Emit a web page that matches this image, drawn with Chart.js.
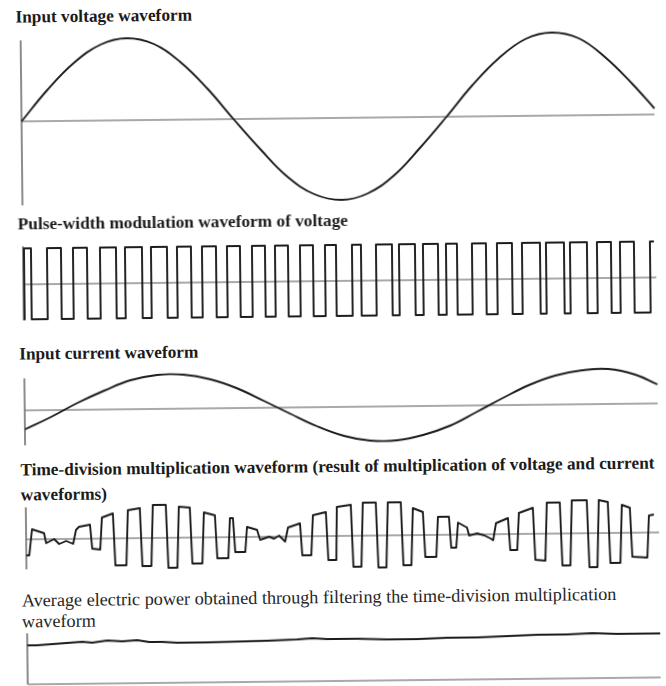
<!DOCTYPE html>
<html>
<head>
<meta charset="utf-8">
<script src="https://cdn.jsdelivr.net/npm/chart.js@4.4.1/dist/chart.umd.min.js"></script>
<style>
  html, body { margin: 0; padding: 0; background: #fff; overflow: hidden; }
  #sheet {
    position: relative; width: 666px; height: 686px;
    transform: rotate(-0.63deg); transform-origin: 333px 343px;
  }
  .title {
    position: absolute; left: 19px; white-space: nowrap; color: #1b1b1b;
    font-family: "Liberation Serif", "DejaVu Serif", serif; font-size: 17.3px;
    font-weight: bold; line-height: 20px;
  }
  .title.light { font-weight: normal; font-size: 18.2px; line-height: 21px; color: #262626; }
  canvas { position: absolute; left: 0; }
</style>
</head>
<body>
<div id="sheet">
  <div class="title" style="top:4px">Input voltage waveform</div>
  <canvas id="voltage" width="666" height="190" style="top:23px"></canvas>

  <div class="title" style="top:211px">Pulse-width modulation waveform of voltage</div>
  <canvas id="pwm" width="666" height="90" style="top:236px"></canvas>

  <div class="title" style="top:341px">Input current waveform</div>
  <canvas id="current" width="666" height="90" style="top:362px"></canvas>

  <div class="title" style="top:454px;line-height:25px">Time-division multiplication waveform (result of multiplication of voltage and current<br>waveforms)</div>
  <canvas id="product" width="666" height="90" style="top:491px"></canvas>

  <div class="title light" style="top:587px">Average electric power obtained through filtering the time-division multiplication<br>waveform</div>
  <canvas id="power" width="666" height="62" style="top:625px"></canvas>
</div>

<script>
// time runs 0 … SPAN along every trace
const SPAN = 633;

// input voltage and current, sampled along the trace
const sineTime = [0, 26, 53, 80, 106, 133, 159, 186, 212, 239, 265, 292, 319, 345, 372, 398, 425, 451, 478, 505, 531, 558, 584, 611, 633];
const inputVoltage = [0, 31, 58, 76, 82, 76, 58, 31, 0, -31, -58, -76, -82, -76, -58, -31, 0, 31, 58, 77, 83, 77, 58, 31, 6];
const inputCurrent = [-19, -7, 7, 19, 29, 34, 34, 29, 20, 7, -6, -19, -29, -34, -34, -29, -20, -7, 7, 20, 29, 34, 35, 29, 19];

// PWM: switching instants (rise, fall, rise, ...) and the two levels
const pwmEdges = [1, 8, 24, 38, 50, 64, 77, 93, 102, 119, 128, 144, 154, 168, 179, 193, 204, 217,
  229, 242, 252, 265, 277, 290, 302, 313, 329, 338, 353, 369, 376, 392, 400, 415, 423, 434,
  449, 463, 474, 489, 499, 517, 523, 541, 547, 564, 574, 588, 597, 611, 627];
const pwmEnd = 631;
const pwmHigh = 36;
const pwmLow = -35;

// time-division multiplication waveform (corner points of the trace)
const productTime = [0, 3, 6, 18, 20, 28, 33, 40, 47, 50, 53, 64, 66, 74, 76, 87, 89, 100, 102, 114,
  116, 125, 127, 140, 142, 151, 153, 164, 166, 176, 178, 189, 191, 202, 204, 207, 209, 219, 221, 231,
  234, 243, 248, 253, 259, 262, 274, 276, 285, 287, 300, 302, 310, 311, 325, 327, 335, 337, 350, 352,
  360, 362, 375, 377, 385, 387, 397, 399, 410, 412, 423, 425, 430, 432, 441, 443, 451, 458, 464, 467,
  470, 482, 484, 491, 493, 507, 509, 519, 521, 534, 536, 544, 546, 561, 563, 571, 573, 582, 584, 594,
  596, 604, 606, 621, 623, 628];
const productValue = [-16, -16, 10, 6, -4, 0, -5, -2, -5, 9, 12, 14, -10, -11, 21, 25, -27, -27, 28, 30,
  -28, -28, 33, 33, -30, -30, 31, 30, -26, -26, 25, 22, -21, -21, 19, 19, -15, -15, 10, 7,
  -3, 0, -2, 1, -5, 9, 13, -19, -19, 21, 24, -24, -24, 29, 31, -31, -31, 33, 33, -32,
  -32, 33, 33, -30, -30, 27, 23, -22, -22, 18, 18, -13, -13, 12, 7, -1, 1, -1, -4, -6,
  11, 16, -16, -16, 21, 26, -26, -27, 31, 31, -32, -32, 33, 33, -34, -34, 33, 31, -30, -30,
  28, 25, -24, -25, 17, 18];

// filtered average power
const powerTime = [0, 10, 25, 40, 55, 65, 80, 95, 110, 122, 135, 150, 180, 210, 240, 270, 285, 300,
  330, 360, 390, 420, 450, 480, 510, 540, 565, 590, 610, 633];
const powerValue = [39, 39, 40, 41, 42, 41, 43, 42, 43, 41, 41, 40, 40, 40.5, 41, 42, 43, 42,
  42, 41, 41, 42, 42, 43, 44, 44, 45, 44, 44, 44];

const INK = "#1c1c1c";

const framePlugin = {
  id: "frame",
  beforeDatasetsDraw(chart, args, opts) {
    const { ctx, scales: { x, y } } = chart;
    const x0 = x.getPixelForValue(0);
    const yz = y.getPixelForValue(0);
    ctx.save();
    ctx.lineCap = "butt";
    ctx.strokeStyle = "#8c8c8c";
    ctx.lineWidth = 1.4;
    ctx.beginPath();
    ctx.moveTo(x0, yz);
    ctx.lineTo(x.getPixelForValue(opts.zeroEnd), yz);
    ctx.stroke();
    ctx.strokeStyle = "#707070";
    ctx.lineWidth = 1.6;
    ctx.beginPath();
    ctx.moveTo(x0, y.getPixelForValue(opts.axisTop));
    ctx.lineTo(x0, y.getPixelForValue(opts.axisBottom));
    ctx.stroke();
    ctx.restore();
  },
};

function pairs(xs, ys) {
  return xs.map((t, i) => ({ x: t, y: ys[i] }));
}

function pwmPoints() {
  const pts = [{ x: 0, y: pwmLow }];
  let level = pwmLow;
  pwmEdges.forEach((t) => {
    pts.push({ x: t, y: level });
    level = level === pwmLow ? pwmHigh : pwmLow;
    pts.push({ x: t, y: level });
  });
  pts.push({ x: pwmEnd, y: level });
  return pts;
}

function trace(id, points, range, frame, smooth) {
  return new Chart(document.getElementById(id), {
    type: "line",
    data: {
      datasets: [
        {
          data: points,
          borderColor: INK,
          borderWidth: 1.9,
          borderJoinStyle: "round",
          pointRadius: 0,
          fill: false,
          clip: false,
          tension: smooth ? 0.4 : 0,
        },
      ],
    },
    options: {
      responsive: false,
      animation: false,
      events: [],
      layout: { padding: { left: 24, right: 666 - 24 - SPAN, top: 0, bottom: 0 } },
      plugins: { legend: { display: false }, tooltip: { enabled: false }, frame },
      scales: {
        x: { type: "linear", min: 0, max: SPAN, display: false },
        y: { min: range[0], max: range[1], display: false },
      },
    },
    plugins: [framePlugin],
  });
}

trace("voltage", pairs(sineTime, inputVoltage), [-95, 95], { zeroEnd: SPAN, axisTop: 81, axisBottom: -84 }, true);
trace("pwm", pwmPoints(), [-45, 45], { zeroEnd: SPAN, axisTop: 38, axisBottom: -36 }, false);
trace("current", pairs(sineTime, inputCurrent), [-45, 45], { zeroEnd: SPAN, axisTop: 32, axisBottom: -35 }, true);
trace("product", pairs(productTime, productValue), [-45, 45], { zeroEnd: SPAN, axisTop: 32, axisBottom: -30 }, false);
trace("power", pairs(powerTime, powerValue), [-6, 56], { zeroEnd: SPAN, axisTop: 51, axisBottom: 0 }, false);
</script>
</body>
</html>
